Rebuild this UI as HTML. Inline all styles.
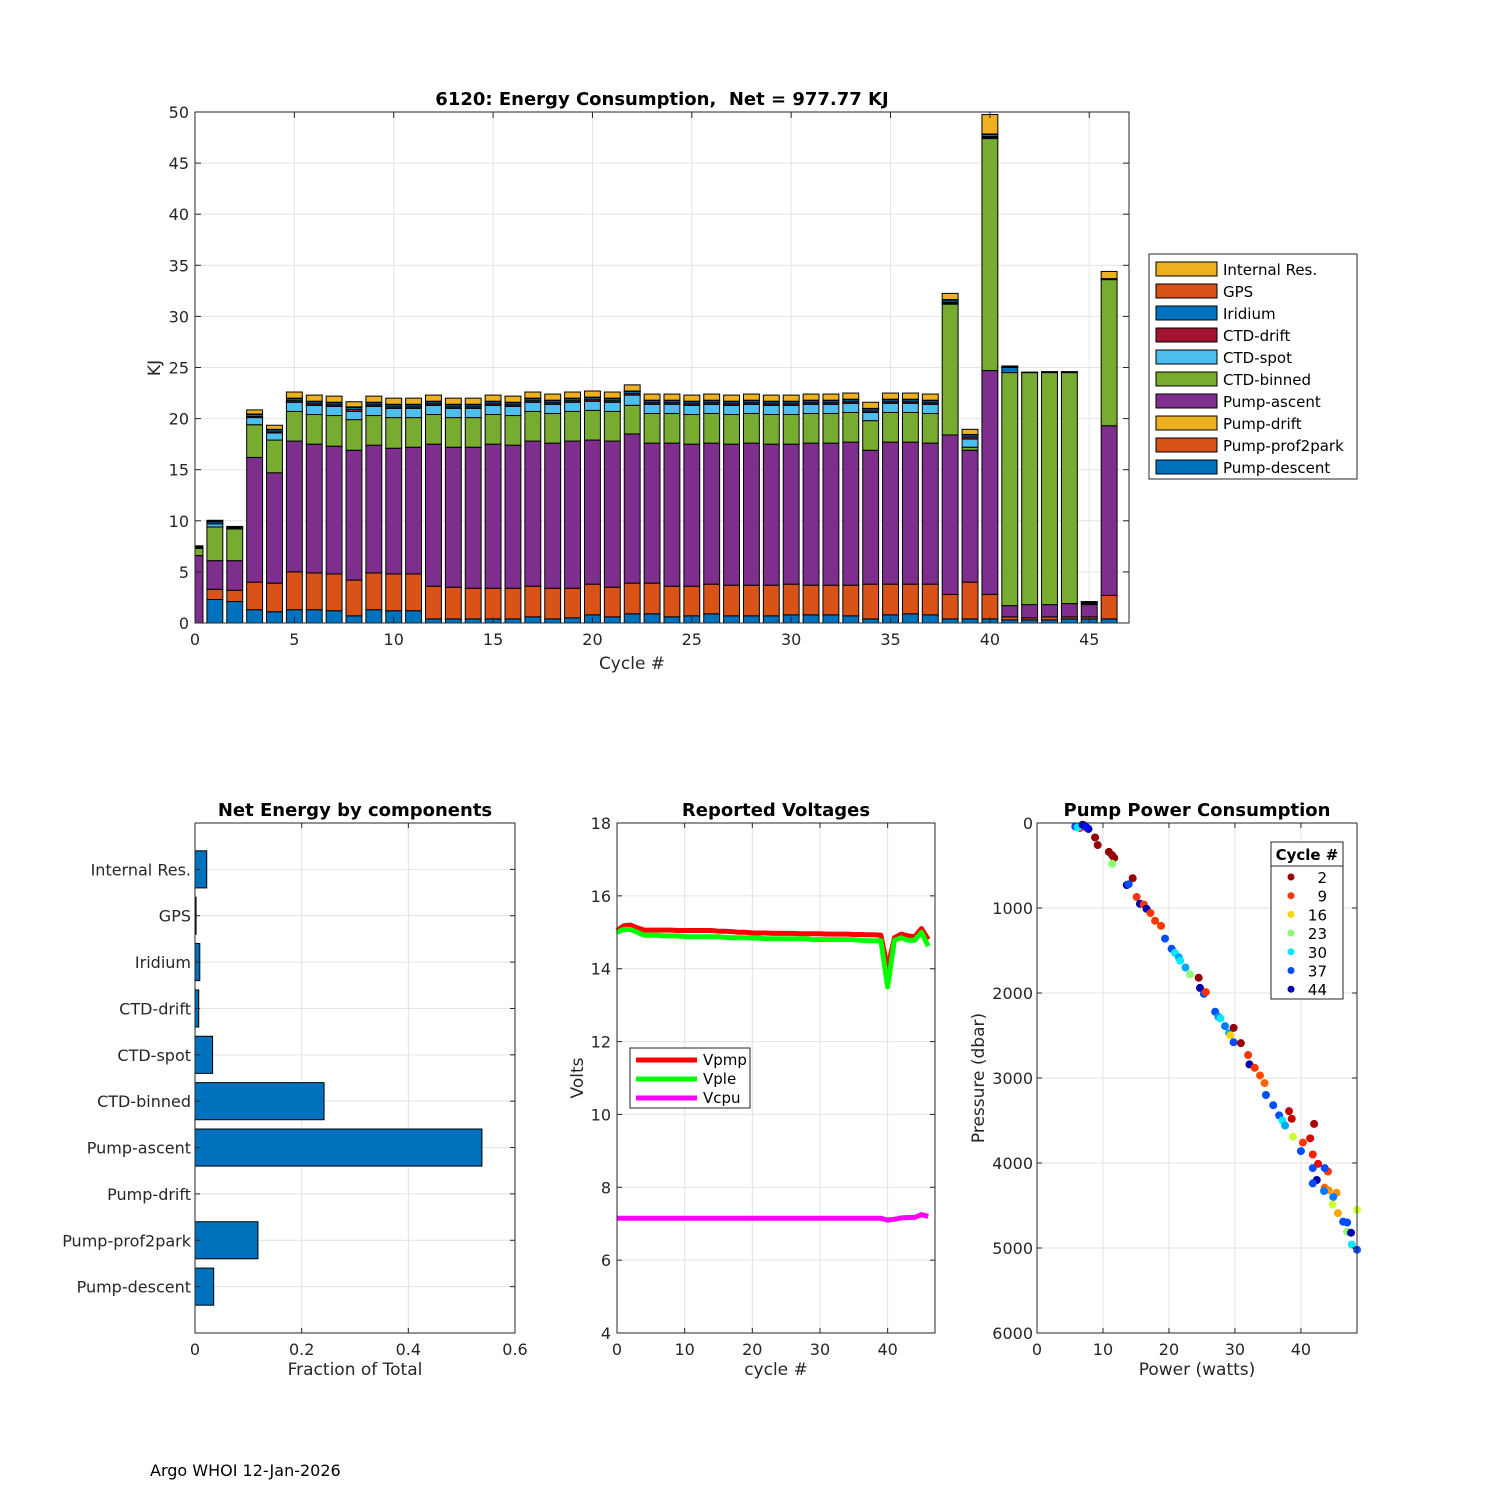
<!DOCTYPE html>
<html><head><meta charset="utf-8"><title>6120 Energy</title>
<style>
html,body{margin:0;padding:0;background:#fff;}
svg{display:block;font-family:"DejaVu Sans","Liberation Sans",sans-serif;}
</style></head>
<body>
<svg id="fig" width="1500" height="1500" viewBox="0 0 1500 1500" xmlns="http://www.w3.org/2000/svg">
<rect width="1500" height="1500" fill="#fff"/>
<g id="top"></g>
<g id="comp"></g>
<g id="volt"></g>
<g id="pump"></g>
<text x="150" y="1476" font-size="16" fill="#000">Argo WHOI 12-Jan-2026</text>
</svg>
<script>
// ---------- top chart data ----------
const topCycles = [0,1,2,3,4,5,6,7,8,9,10,11,12,13,14,15,16,17,18,19,20,21,22,23,24,25,26,27,28,29,30,31,32,33,34,35,36,37,38,39,40,41,42,43,44,45,46];
const pumpDescent = [0,2.3,2.1,1.3,1.1,1.3,1.3,1.2,0.7,1.3,1.2,1.2,0.4,0.4,0.4,0.4,0.4,0.6,0.4,0.5,0.8,0.6,0.9,0.9,0.6,0.7,0.9,0.7,0.7,0.7,0.8,0.8,0.8,0.7,0.4,0.8,0.9,0.8,0.4,0.4,0.4,0.3,0.3,0.3,0.4,0.4,0.4];
const pumpProf2park = [0,1.0,1.1,2.7,2.8,3.7,3.6,3.6,3.5,3.6,3.6,3.6,3.2,3.1,3.0,3.0,3.0,3.0,3.0,2.9,3.0,2.9,3.0,3.0,3.0,2.9,2.9,3.0,3.0,3.0,3.0,2.9,2.9,3.0,3.4,3.0,2.9,3.0,2.4,3.6,2.4,0.3,0.2,0.3,0.2,0.2,2.3];
const pumpDrift = [0,0,0,0,0,0,0,0,0,0,0,0,0,0,0,0,0,0,0,0,0,0,0,0,0,0,0,0,0,0,0,0,0,0,0,0,0,0,0,0,0,0,0,0,0,0,0];
const pumpAscent = [6.6,2.8,2.9,12.2,10.8,12.8,12.6,12.5,12.7,12.5,12.3,12.4,13.9,13.7,13.8,14.1,14.0,14.2,14.2,14.4,14.1,14.3,14.6,13.7,14.0,13.9,13.8,13.8,13.9,13.8,13.7,13.9,13.9,14.0,13.1,13.9,13.9,13.8,15.6,12.9,21.9,1.1,1.3,1.2,1.3,1.2,16.6];
const ctdBinned = [0.7,3.3,3.1,3.2,3.2,2.9,2.9,3.0,3.0,2.9,3.0,2.9,2.9,2.9,2.9,2.9,2.9,2.9,2.9,2.9,2.9,2.9,2.8,2.9,2.9,2.9,2.9,2.9,2.9,2.9,2.9,2.9,2.9,2.9,2.9,2.9,2.9,2.9,12.8,0.3,22.7,22.8,22.7,22.7,22.6,0,14.3];
const ctdSpot = [0,0.3,0,0.7,0.7,0.9,0.9,0.9,0.8,0.9,0.9,0.9,0.9,0.9,0.9,0.9,0.9,0.9,0.9,0.9,0.9,0.9,1.0,0.9,0.9,0.9,0.9,0.9,0.9,0.9,0.9,0.9,0.9,0.9,0.8,0.9,0.9,0.9,0.1,0.8,0.1,0,0,0,0,0,0];
const ctdDrift = [0,0,0,0.1,0.1,0.15,0.15,0.15,0.2,0.15,0.15,0.15,0.15,0.15,0.15,0.15,0.15,0.15,0.15,0.15,0.15,0.15,0.15,0.15,0.15,0.15,0.15,0.15,0.15,0.15,0.15,0.15,0.15,0.15,0.15,0.15,0.15,0.15,0.1,0.2,0.1,0,0,0,0,0,0];
const iridium = [0.1,0.2,0.1,0.2,0.2,0.2,0.2,0.2,0.2,0.2,0.2,0.2,0.2,0.2,0.2,0.2,0.2,0.2,0.2,0.2,0.2,0.2,0.2,0.2,0.2,0.2,0.2,0.2,0.2,0.2,0.2,0.2,0.2,0.2,0.2,0.2,0.2,0.2,0.2,0.2,0.2,0.5,0.05,0.05,0.05,0.1,0.05];
const gps = [0.05,0.05,0.05,0.05,0.05,0.05,0.05,0.05,0.05,0.05,0.05,0.05,0.05,0.05,0.05,0.05,0.05,0.05,0.05,0.05,0.05,0.05,0.05,0.05,0.05,0.05,0.05,0.05,0.05,0.05,0.05,0.05,0.05,0.05,0.05,0.05,0.05,0.05,0.05,0.05,0.05,0.05,0,0,0,0.1,0.05];
const internalRes = [0.1,0.1,0.1,0.4,0.4,0.6,0.6,0.6,0.5,0.6,0.6,0.6,0.6,0.6,0.6,0.6,0.6,0.6,0.6,0.6,0.6,0.6,0.6,0.6,0.6,0.6,0.6,0.6,0.6,0.6,0.6,0.6,0.6,0.6,0.6,0.6,0.6,0.6,0.6,0.5,1.9,0.1,0,0.05,0.05,0.1,0.7];
const topLayerNames = ["Pump-descent","Pump-prof2park","Pump-drift","Pump-ascent","CTD-binned","CTD-spot","CTD-drift","Iridium","GPS","Internal Res."];
const topLayerColors = ["#0072BD","#D95319","#EDB120","#7E2F8E","#77AC30","#4DBEEE","#A2142F","#0072BD","#D95319","#EDB120"];
const topXTicks = [0,5,10,15,20,25,30,35,40,45];
const topYTicks = [0,5,10,15,20,25,30,35,40,45,50];

// ---------- components chart data ----------
const compNames = ["Pump-descent","Pump-prof2park","Pump-drift","Pump-ascent","CTD-binned","CTD-spot","CTD-drift","Iridium","GPS","Internal Res."];
const compFractions = [0.035,0.118,0,0.538,0.242,0.033,0.007,0.009,0.002,0.022];
const compXTicks = [0,0.2,0.4,0.6];

// ---------- voltage chart data ----------
const voltCycles = [0,1,2,3,4,5,6,7,8,9,10,11,12,13,14,15,16,17,18,19,20,21,22,23,24,25,26,27,28,29,30,31,32,33,34,35,36,37,38,39,40,41,42,43,44,45,46];
const vpmp = [15.05,15.18,15.2,15.12,15.06,15.06,15.06,15.06,15.06,15.05,15.05,15.05,15.05,15.05,15.05,15.03,15.03,15.02,15.0,15.0,14.98,14.98,14.98,14.97,14.97,14.97,14.97,14.96,14.96,14.96,14.96,14.95,14.95,14.95,14.95,14.94,14.94,14.93,14.93,14.92,14.0,14.85,14.95,14.9,14.88,15.1,14.8];
const vple = [15.0,15.08,15.08,15.0,14.92,14.92,14.92,14.9,14.9,14.9,14.88,14.88,14.88,14.88,14.88,14.88,14.86,14.85,14.85,14.85,14.84,14.84,14.82,14.82,14.82,14.82,14.82,14.82,14.82,14.8,14.8,14.8,14.8,14.8,14.8,14.8,14.78,14.77,14.77,14.77,13.5,14.78,14.85,14.78,14.78,15.0,14.62];
const vcpu = [7.15,7.15,7.15,7.15,7.15,7.15,7.15,7.15,7.15,7.15,7.15,7.15,7.15,7.15,7.15,7.15,7.15,7.15,7.15,7.15,7.15,7.15,7.15,7.15,7.15,7.15,7.15,7.15,7.15,7.15,7.15,7.15,7.15,7.15,7.15,7.15,7.15,7.15,7.15,7.15,7.1,7.12,7.16,7.17,7.17,7.25,7.2];
const voltXTicks = [0,10,20,30,40];
const voltYTicks = [4,6,8,10,12,14,16,18];

// ---------- pump power data ----------
const pumpPower = [5.8,6.5,7.2,7.8,6.2,6.9,7.5,8.8,9.2,10.9,11.4,11.7,11.4,14.5,13.6,13.9,15.1,15.6,16.2,16.6,17.2,17.9,18.8,19.4,20.4,20.9,21.5,21.7,22.5,23.2,24.5,24.7,25.3,25.6,27.0,27.5,27.8,28.5,29.1,29.3,29.8,29.8,30.9,32.0,32.2,33.0,33.8,34.5,34.7,35.8,36.7,37.2,37.6,38.2,38.6,38.8,42.0,40.3,41.4,41.8,40.0,42.6,44.1,41.8,43.6,42.4,41.8,43.6,44.2,45.4,43.5,44.9,44.8,45.6,48.5,46.4,47.0,47.0,47.6,47.7,48.5];
const pumpPressure = [40,60,30,70,50,20,50,170,260,340,380,410,480,650,730,720,870,950,960,1010,1060,1150,1210,1360,1480,1530,1580,1620,1700,1780,1820,1940,2010,1990,2220,2280,2300,2390,2470,2500,2410,2580,2590,2730,2840,2880,2970,3060,3200,3320,3440,3500,3560,3390,3480,3690,3540,3760,3710,3900,3860,4010,4100,4060,4060,4200,4240,4290,4320,4350,4330,4400,4490,4590,4550,4690,4700,4810,4820,4960,5020];
const pumpCycle = [37,9,2,44,30,44,40,2,2,2,2,2,23,2,44,37,9,44,9,44,9,9,9,37,37,30,33,30,33,23,2,44,37,9,37,34,30,35,33,16,2,37,2,9,44,9,10,11,37,37,37,30,33,4,4,20,3,9,5,8,37,6,9,37,37,44,37,11,13,13,35,35,20,14,20,37,37,23,44,30,37];
const pumpLegendCycles = [2,9,16,23,30,37,44];
const pumpXTicks = [0,10,20,30,40];
const pumpYTicks = [0,1000,2000,3000,4000,5000,6000];

const NS = "http://www.w3.org/2000/svg";
function mk(tag, attrs, parent){const e=document.createElementNS(NS,tag);for(const k in attrs)e.setAttribute(k,attrs[k]);parent.appendChild(e);return e;}
function txt(s, attrs, parent){const e=mk("text",attrs,parent);e.textContent=s;return e;}
const GRID="#e3e3e3", AX="#262626";

function axesFrame(g,L,T,R,B,name){
  const f=mk("rect",{x:L,y:T,width:R-L,height:B-T,fill:"none",stroke:AX,"stroke-width":1},g);
  
  
}

// ===== TOP CHART =====
(function(){
  const g=document.getElementById("top");
  const L=195,R=1129,T=112,B=623, xmin=0,xmax=47,ymin=0,ymax=50;
  const X=v=>L+(v-xmin)/(xmax-xmin)*(R-L);
  const Y=v=>B-(v-ymin)/(ymax-ymin)*(B-T);
  const clip=mk("clipPath",{id:"topclip"},g); mk("rect",{x:L,y:T,width:R-L,height:B-T},clip);
  topXTicks.forEach(t=>{
    const l=mk("line",{x1:X(t),x2:X(t),y1:T,y2:B,stroke:GRID},g);
    
    
  });
  topYTicks.forEach(t=>{
    const l=mk("line",{x1:L,x2:R,y1:Y(t),y2:Y(t),stroke:GRID},g);
    
    
  });
  const layers=[pumpDescent,pumpProf2park,pumpDrift,pumpAscent,ctdBinned,ctdSpot,ctdDrift,iridium,gps,internalRes];
  const bars=mk("g",{"clip-path":"url(#topclip)"},g);
  topCycles.forEach((c,i)=>{
    let base=0;
    layers.forEach((arr,k)=>{
      const v=arr[i]; if(v<=0) return;
      const r=mk("rect",{x:X(c-0.4),width:X(c+0.4)-X(c-0.4),y:Y(base+v),height:Y(base)-Y(base+v),fill:topLayerColors[k],stroke:"#000","stroke-width":1},bars);
      
      
      base+=v;
    });
  });
  axesFrame(g,L,T,R,B,"top-axes");
  topXTicks.forEach(t=>{
    mk("line",{x1:X(t),x2:X(t),y1:B,y2:B-6,stroke:AX},g);
    mk("line",{x1:X(t),x2:X(t),y1:T,y2:T+6,stroke:AX},g);
    const s=txt(String(t),{x:X(t),y:B+22,"font-size":16,"text-anchor":"middle",fill:AX},g);
    
    
  });
  topYTicks.forEach(t=>{
    mk("line",{x1:L,x2:L+6,y1:Y(t),y2:Y(t),stroke:AX},g);
    mk("line",{x1:R,x2:R-6,y1:Y(t),y2:Y(t),stroke:AX},g);
    const s=txt(String(t),{x:L-6,y:Y(t)+6,"font-size":16,"text-anchor":"end",fill:AX},g);
    
    
  });
  const xt=txt("Cycle #",{x:(L+R)/2-30,y:B+46,"font-size":17,"text-anchor":"middle",fill:AX},g);
  
  
  const yt=txt("KJ",{x:0,y:0,"font-size":17,"text-anchor":"middle",fill:AX,transform:"translate(160,368) rotate(-90)"},g);
  
  
  const tt=txt("6120: Energy Consumption,\u00a0 Net = 977.77 KJ",{x:662,y:105,"font-size":18,"font-weight":"bold","text-anchor":"middle",fill:"#000"},g);
  
  
  // legend
  const lg=mk("g",{},g);
  
  
  mk("rect",{x:1149,y:254,width:208,height:225,fill:"#fff",stroke:AX},lg);
  for(let k=9;k>=0;k--){
    const row=9-k, y=262+row*22;
    const e=mk("g",{},lg);
    
    
    mk("rect",{x:1156,y:y,width:61,height:14,fill:topLayerColors[k],stroke:"#000"},e);
    txt(topLayerNames[k],{x:1223,y:y+13,"font-size":15,fill:"#000"},e);
  }
})();

// ===== COMPONENTS CHART =====
(function(){
  const g=document.getElementById("comp");
  const L=195,R=515,T=823,B=1333;
  const X=v=>L+v/0.6*(R-L);
  const Y=k=>B-(k+1)/11*(B-T);
  compXTicks.forEach(t=>{const l=mk("line",{x1:X(t),x2:X(t),y1:T,y2:B,stroke:GRID},g);
    
    });
  compNames.forEach((n,k)=>{const l=mk("line",{x1:L,x2:R,y1:Y(k),y2:Y(k),stroke:GRID},g);
    
    });
  compNames.forEach((n,k)=>{
    const h=0.8/11*(B-T);
    if(compFractions[k]>0){
      const r=mk("rect",{x:X(0),y:Y(k)-h/2,width:X(compFractions[k])-X(0),height:h,fill:"#0072BD",stroke:"#000"},g);
      
      
    }
    mk("line",{x1:L,x2:L+5,y1:Y(k),y2:Y(k),stroke:AX},g);
    mk("line",{x1:R,x2:R-5,y1:Y(k),y2:Y(k),stroke:AX},g);
    const s=txt(n,{x:L-4,y:Y(k)+6,"font-size":16,"text-anchor":"end",fill:AX},g);
    
    
  });
  axesFrame(g,L,T,R,B,"components-axes");
  compXTicks.forEach(t=>{
    mk("line",{x1:X(t),x2:X(t),y1:B,y2:B-5,stroke:AX},g);
    mk("line",{x1:X(t),x2:X(t),y1:T,y2:T+5,stroke:AX},g);
    const s=txt(String(t),{x:X(t),y:B+22,"font-size":16,"text-anchor":"middle",fill:AX},g);
    
    
  });
  const xt=txt("Fraction of Total",{x:(L+R)/2,y:B+42,"font-size":17,"text-anchor":"middle",fill:AX},g);
  
  
  const tt=txt("Net Energy by components",{x:(L+R)/2,y:816,"font-size":18,"font-weight":"bold","text-anchor":"middle",fill:"#000"},g);
  
  
})();

// ===== VOLTAGE CHART =====
(function(){
  const g=document.getElementById("volt");
  const L=617,R=935,T=823,B=1333, xmax=47, ymin=4, ymax=18;
  const X=v=>L+v/xmax*(R-L);
  const Y=v=>B-(v-ymin)/(ymax-ymin)*(B-T);
  voltXTicks.forEach(t=>{const l=mk("line",{x1:X(t),x2:X(t),y1:T,y2:B,stroke:GRID},g);
    
    });
  voltYTicks.forEach(t=>{const l=mk("line",{x1:L,x2:R,y1:Y(t),y2:Y(t),stroke:GRID},g);
    
    });
  const series=[["Vpmp",vpmp,"#ff0000"],["Vple",vple,"#00ff00"],["Vcpu",vcpu,"#ff00ff"]];
  series.forEach(([n,arr,c])=>{
    const d=arr.map((v,i)=>(i?"L":"M")+X(voltCycles[i]).toFixed(1)+","+Y(v).toFixed(1)).join("");
    const p=mk("path",{d:d,fill:"none",stroke:c,"stroke-width":5,"stroke-linejoin":"round"},g);
    
    
  });
  axesFrame(g,L,T,R,B,"voltage-axes");
  voltXTicks.forEach(t=>{
    mk("line",{x1:X(t),x2:X(t),y1:B,y2:B-5,stroke:AX},g);
    mk("line",{x1:X(t),x2:X(t),y1:T,y2:T+5,stroke:AX},g);
    const s=txt(String(t),{x:X(t),y:B+22,"font-size":16,"text-anchor":"middle",fill:AX},g);
    
    
  });
  voltYTicks.forEach(t=>{
    mk("line",{x1:L,x2:L+5,y1:Y(t),y2:Y(t),stroke:AX},g);
    mk("line",{x1:R,x2:R-5,y1:Y(t),y2:Y(t),stroke:AX},g);
    const s=txt(String(t),{x:L-6,y:Y(t)+6,"font-size":16,"text-anchor":"end",fill:AX},g);
    
    
  });
  const xt=txt("cycle #",{x:(L+R)/2,y:B+42,"font-size":17,"text-anchor":"middle",fill:AX},g);
  
  
  const yt=txt("Volts",{x:0,y:0,"font-size":17,"text-anchor":"middle",fill:AX,transform:"translate(583,1078) rotate(-90)"},g);
  
  
  const tt=txt("Reported Voltages",{x:(L+R)/2,y:816,"font-size":18,"font-weight":"bold","text-anchor":"middle",fill:"#000"},g);
  
  
  const lg=mk("g",{},g);
  
  
  mk("rect",{x:630,y:1048,width:120,height:60,fill:"#fff",stroke:AX},lg);
  series.forEach(([n,arr,c],i)=>{
    const e=mk("g",{},lg);
    
    
    mk("line",{x1:636,x2:697,y1:1060+i*19,y2:1060+i*19,stroke:c,"stroke-width":5},e);
    txt(n,{x:703,y:1065+i*19,"font-size":15,fill:"#000"},e);
  });
})();

// ===== PUMP POWER CHART =====
(function(){
  const g=document.getElementById("pump");
  const L=1037,R=1357,T=823,B=1333, xmax=48.5, ymax=6000;
  const X=v=>L+v/xmax*(R-L);
  const Y=v=>T+v/ymax*(B-T);
  function jet(t){
    const r=Math.min(Math.max(Math.min(4*t-1.5,-4*t+4.5),0),1);
    const gg=Math.min(Math.max(Math.min(4*t-0.5,-4*t+3.5),0),1);
    const b=Math.min(Math.max(Math.min(4*t+0.5,-4*t+2.5),0),1);
    return "rgb("+Math.round(r*255)+","+Math.round(gg*255)+","+Math.round(b*255)+")";
  }
  const col=c=>jet(1-(c-1)/45);
  pumpXTicks.forEach(t=>{const l=mk("line",{x1:X(t),x2:X(t),y1:T,y2:B,stroke:GRID},g);
    
    });
  pumpYTicks.forEach(t=>{const l=mk("line",{x1:L,x2:R,y1:Y(t),y2:Y(t),stroke:GRID},g);
    
    });
  const clip=mk("clipPath",{id:"pumpclip"},g); mk("rect",{x:L,y:T-6,width:R-L+6,height:B-T+6},clip);
  const pts=mk("g",{"clip-path":"url(#pumpclip)"},g);
  pumpPower.forEach((p,i)=>{
    const c=mk("circle",{cx:X(p),cy:Y(pumpPressure[i]),r:4,fill:col(pumpCycle[i])},pts);
    
    
  });
  axesFrame(g,L,T,R,B,"pump-axes");
  pumpXTicks.forEach(t=>{
    mk("line",{x1:X(t),x2:X(t),y1:B,y2:B-5,stroke:AX},g);
    mk("line",{x1:X(t),x2:X(t),y1:T,y2:T+5,stroke:AX},g);
    const s=txt(String(t),{x:X(t),y:B+22,"font-size":16,"text-anchor":"middle",fill:AX},g);
    
    
  });
  pumpYTicks.forEach(t=>{
    mk("line",{x1:L,x2:L+5,y1:Y(t),y2:Y(t),stroke:AX},g);
    mk("line",{x1:R,x2:R-5,y1:Y(t),y2:Y(t),stroke:AX},g);
    const s=txt(String(t),{x:L-4,y:Y(t)+6,"font-size":16,"text-anchor":"end",fill:AX},g);
    
    
  });
  const xt=txt("Power (watts)",{x:(L+R)/2,y:B+42,"font-size":17,"text-anchor":"middle",fill:AX},g);
  
  
  const yt=txt("Pressure (dbar)",{x:0,y:0,"font-size":17,"text-anchor":"middle",fill:AX,transform:"translate(984,1078) rotate(-90)"},g);
  
  
  const tt=txt("Pump Power Consumption",{x:(L+R)/2,y:816,"font-size":18,"font-weight":"bold","text-anchor":"middle",fill:"#000"},g);
  
  
  const lg=mk("g",{},g);
  
  
  mk("rect",{x:1271,y:842,width:72,height:157,fill:"#fff",stroke:AX},lg);
  mk("line",{x1:1271,x2:1343,y1:866,y2:866,stroke:AX},lg);
  txt("Cycle #",{x:1307,y:860,"font-size":15,"font-weight":"bold","text-anchor":"middle",fill:"#000"},lg);
  pumpLegendCycles.forEach((c,i)=>{
    const e=mk("g",{},lg);
    
    
    mk("circle",{cx:1291,cy:877+i*18.7,r:3.5,fill:col(c)},e);
    txt(String(c),{x:1327,y:883+i*18.7,"font-size":15,"text-anchor":"end",fill:"#000"},e);
  });
})();
</script>
</body></html>
